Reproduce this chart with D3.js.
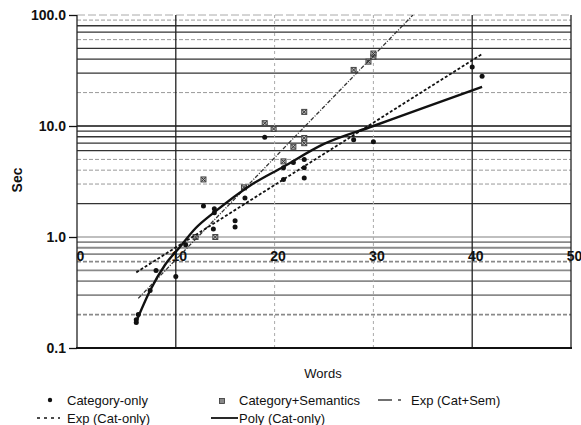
<!DOCTYPE html>
<html>
<head>
<meta charset="utf-8">
<script src="https://cdn.jsdelivr.net/npm/d3@7"></script>
<style>
    body { margin: 0; background: #fff; }
    svg text { font-family: Arial, "Liberation Sans", sans-serif; fill: #111; }
</style>
</head>
<body>
<div id="chart"></div>
<script>
// words vs. seconds
let catOnly = [
    [6, 0.17], [6, 0.18], [6.2, 0.2], [7.4, 0.33], [8, 0.5], [10, 0.44],
    [11, 0.85], [12.8, 1.9], [13.9, 1.8], [13.9, 1.65], [13.8, 1.18],
    [16, 1.4], [16, 1.23], [17, 2.25], [19, 7.9], [20.9, 4.2], [20.9, 3.3],
    [21.9, 4.7], [23, 5.0], [23, 4.2], [23, 3.4], [28, 7.5], [30, 7.2],
    [40, 34], [41, 28]
];
let catSem = [
    [12, 1.0], [12.8, 3.3], [14, 1.0], [16.9, 2.8], [19, 10.6], [19.9, 9.4],
    [20.9, 4.8], [21.9, 6.5], [23, 13.4], [23, 7.8], [23, 7.0],
    [28, 32], [29.5, 38], [30, 42], [30, 45]
];
// trend lines
let expCatSem = [[6.2, 0.28], [34, 100]];
let expCatOnly = [[6, 0.48], [41, 44.5]];
let polyCatOnly = [
    [5.9, 0.165], [7.4, 0.33], [8.9, 0.56], [10.4, 0.81], [12, 1.2], [14, 1.7],
    [17.5, 2.9], [20.9, 4.3], [25, 6.9], [30, 10], [35, 14.5], [41, 22.5]
];
let xTicks = [0, 10, 20, 30, 40, 50];
let yTicks = [0.1, 1, 10, 100];

let width = 581;
let height = 425;

let svg = d3.select("#chart")
    .append("svg")
    .attr("width", width)
    .attr("height", height);

let x = d3.scaleLinear().domain([0, 50]).range([77, 571]);
let y = d3.scaleLog().domain([0.1, 100]).range([348, 15]);

// gridlines
let dashedY = [0.6, 0.2, 3, 4, 5, 20, 60, 90];
let grid = svg.append("g");
y.ticks().forEach(function (v) {
    if (yTicks.indexOf(v) >= 0) return;
    let r = Math.round(v * 10) / 10;
    let dashed = dashedY.indexOf(r) >= 0;
    let low = v < 1;
    grid.append("line")
        .attr("x1", x(0)).attr("x2", x(50))
        .attr("y1", y(v)).attr("y2", y(v))
        .attr("stroke", low ? "#8a8a8a" : (dashed ? "#999" : "#333"))
        .attr("stroke-width", low ? 1.8 : (dashed ? 1 : 1.3))
        .attr("stroke-dasharray", dashed ? "4,2" : null);
});
// line at 1.0 (gray, doubled in the scan)
grid.append("line")
    .attr("x1", x(0)).attr("x2", x(50))
    .attr("y1", y(1)).attr("y2", y(1))
    .attr("stroke", "#aaa").attr("stroke-width", 1.5);
grid.append("line")
    .attr("x1", x(0)).attr("x2", x(50))
    .attr("y1", y(10)).attr("y2", y(10))
    .attr("stroke", "#111").attr("stroke-width", 1.5);
grid.append("line")
    .attr("x1", x(0)).attr("x2", x(50))
    .attr("y1", y(100)).attr("y2", y(100))
    .attr("stroke", "#aaa").attr("stroke-width", 1)
    .attr("stroke-dasharray", "8,3");

xTicks.forEach(function (v) {
    let strong = (v == 0 || v == 10 || v == 40 || v == 50);
    grid.append("line")
        .attr("x1", x(v)).attr("x2", x(v))
        .attr("y1", y(100)).attr("y2", y(0.1))
        .attr("stroke", strong ? "#222" : "#aaa")
        .attr("stroke-width", strong ? 1.3 : 1)
        .attr("stroke-dasharray", strong ? null : "3,3");
});
grid.append("line")
    .attr("x1", x(0) - 1).attr("x2", x(50) + 1)
    .attr("y1", y(0.1)).attr("y2", y(0.1))
    .attr("stroke", "#111").attr("stroke-width", 2.2);

// axes
let yAxis = svg.append("g")
    .attr("transform", "translate(" + x(0) + ",0)")
    .call(d3.axisLeft(y).tickValues(yTicks).tickFormat(d3.format(".1f"))
        .tickSize(8).tickPadding(3));
yAxis.select(".domain").remove();
yAxis.selectAll("line").attr("stroke", "#111").attr("stroke-width", 1.3);
yAxis.selectAll("text")
    .style("font-size", "14px").style("font-weight", "bold");

let xAxis = svg.append("g")
    .attr("transform", "translate(0," + y(1) + ")")
    .call(d3.axisBottom(x).tickValues(xTicks).tickSize(0).tickPadding(14));
xAxis.select(".domain").remove();
xAxis.selectAll("text")
    .attr("dx", "3")
    .style("font-size", "14px").style("font-weight", "bold");

svg.append("text")
    .attr("transform", "translate(22,180) rotate(-90)")
    .style("text-anchor", "middle")
    .style("font-size", "14px").style("font-weight", "bold")
    .text("Sec");
svg.append("text")
    .attr("x", 323).attr("y", 378)
    .style("text-anchor", "middle")
    .style("font-size", "13px")
    .text("Words");

// clip for trend lines
svg.append("defs").append("clipPath")
    .attr("id", "clip")
    .append("rect")
    .attr("x", x(0)).attr("y", y(100))
    .attr("width", x(50) - x(0)).attr("height", y(0.1) - y(100));

let line = d3.line()
    .x(d => x(d[0]))
    .y(d => y(d[1]));
let plot = svg.append("g").attr("clip-path", "url(#clip)");

// markers
plot.selectAll(".sem")
    .data(catSem)
    .enter()
    .append("g")
    .attr("class", "sem")
    .attr("transform", d => "translate(" + x(d[0]) + "," + y(d[1]) + ")")
    .each(function () {
        let g = d3.select(this);
        g.append("rect")
            .attr("x", -2.5).attr("y", -2.5).attr("width", 5).attr("height", 5)
            .attr("fill", "#bbb").attr("stroke", "#444").attr("stroke-width", 1);
        g.append("path")
            .attr("d", "M-2,-2L2,2M2,-2L-2,2")
            .attr("stroke", "#333").attr("stroke-width", 1);
    });

plot.selectAll(".cat")
    .data(catOnly)
    .enter()
    .append("circle")
    .attr("class", "cat")
    .attr("cx", d => x(d[0]))
    .attr("cy", d => y(d[1]))
    .attr("r", 2.5)
    .attr("fill", "#111");

plot.append("path")
    .datum(expCatSem)
    .attr("fill", "none")
    .attr("stroke", "#333")
    .attr("stroke-width", 1.3)
    .attr("stroke-dasharray", "4,1.5,1,1.5")
    .attr("d", line);
plot.append("path")
    .datum(expCatOnly)
    .attr("fill", "none")
    .attr("stroke", "#111")
    .attr("stroke-width", 1.8)
    .attr("stroke-dasharray", "3,2")
    .attr("d", line);
plot.append("path")
    .datum(polyCatOnly)
    .attr("fill", "none")
    .attr("stroke", "#111")
    .attr("stroke-width", 2.4)
    .attr("d", line.curve(d3.curveMonotoneX));

// legend
let legend = svg.append("g").style("font-size", "13px");
function legendText(tx, ty, label) {
    legend.append("text").attr("x", tx).attr("y", ty).text(label);
}
legend.append("circle").attr("cx", 50).attr("cy", 400).attr("r", 2.2).attr("fill", "#111");
legendText(67, 405, "Category-only");
legend.append("rect").attr("x", 219.5).attr("y", 398.5).attr("width", 5).attr("height", 5)
    .attr("fill", "#888").attr("stroke", "#333").attr("stroke-width", 0.8);
legendText(239, 405, "Category+Semantics");
legend.append("line").attr("x1", 378).attr("x2", 392).attr("y1", 400).attr("y2", 400)
    .attr("stroke", "#333").attr("stroke-width", 1.4);
legend.append("line").attr("x1", 398).attr("x2", 401).attr("y1", 400).attr("y2", 400)
    .attr("stroke", "#333").attr("stroke-width", 1.4);
legendText(411, 405, "Exp (Cat+Sem)");
legend.append("line").attr("x1", 37).attr("x2", 60).attr("y1", 418).attr("y2", 418)
    .attr("stroke", "#111").attr("stroke-width", 1.4).attr("stroke-dasharray", "3,4");
legendText(67, 423, "Exp (Cat-only)");
legend.append("line").attr("x1", 211).attr("x2", 238).attr("y1", 418).attr("y2", 418)
    .attr("stroke", "#111").attr("stroke-width", 1.8);
legendText(239, 423, "Poly (Cat-only)");
</script>
</body>
</html>
